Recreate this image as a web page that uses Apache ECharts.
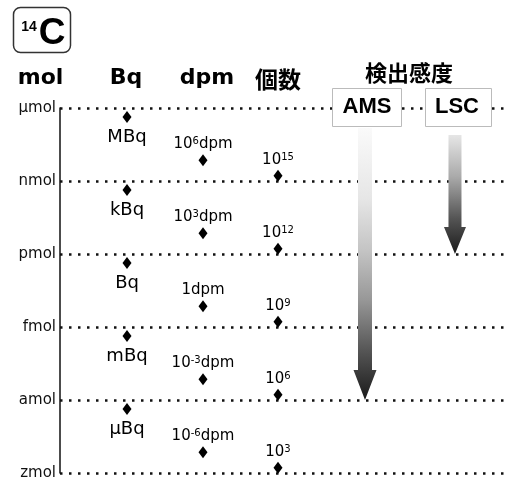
<!DOCTYPE html>
<html>
<head>
<meta charset="utf-8">
<script src="https://cdn.jsdelivr.net/npm/echarts@6/dist/echarts.min.js"></script>
<style>
  html, body { margin: 0; padding: 0; background: #fff; }
  #chart { width: 509px; height: 481px; }
</style>
</head>
<body>
<div id="chart"></div>
<script>
// ---- data; amounts are expressed in zmol ----
// mol scale tick labels: 1 zmol (1e-21 mol) up to 1e15 zmol (1 μmol)
const molUnits = ['zmol', 'amol', 'fmol', 'pmol', 'nmol', 'μmol'];
const molExponents = [0, 3, 6, 9, 12, 15];   // log10 of the tick in zmol

// Bq column
const bqLabels = ['MBq', 'kBq', 'Bq', 'mBq', 'μBq'];
const bqZmol = [4.3e14, 4.3e11, 4.3e8, 4.3e5, 430];

// dpm column
const dpmBase = ['10', '10', '1', '10', '10'];
const dpmSup = ['6', '3', '', '-3', '-6'];
const dpmZmol = [7.2e12, 7.2e9, 7.2e6, 7200, 7.2];

// number of atoms column (個数)
const countSup = ['15', '12', '9', '6', '3'];
const countZmol = [1.66e12, 1.66e9, 1.66e6, 1660, 1.66];

// detection sensitivity (検出感度)
const methods = ['AMS', 'LSC'];
const methodLimitZmol = [1e3, 1e9];
const methodStartZmol = [1.5e14, 7.8e13];

// ---- layout (positions of columns on a hidden 0..100 x axis) ----
const colX = { Bq: 15.06, dpm: 32.13, count: 48.99, AMS: 68.54, LSC: 88.76 };
const methodX = [colX.AMS, colX.LSC];

const INK = '#000';
const FONT = 'DejaVu Sans';

const chart = echarts.init(document.getElementById('chart'));

const arrowShape = [
  { sw: 7, hw: 11.5, hl: 30, stops: [
    { offset: 0, color: '#fafafa' }, { offset: 0.26, color: '#e6e6e6' },
    { offset: 0.45, color: '#c4c4c4' }, { offset: 0.63, color: '#989898' },
    { offset: 0.82, color: '#555' }, { offset: 1, color: '#1a1a1a' }] },
  { sw: 6.5, hw: 11, hl: 27, stops: [
    { offset: 0, color: '#e6e6e6' }, { offset: 0.35, color: '#aaaaaa' },
    { offset: 0.7, color: '#555' }, { offset: 1, color: '#1a1a1a' }] }
];

const supRich = {
  b: { fontFamily: FONT, fontSize: 15, lineHeight: 15, color: INK },
  s: { fontFamily: FONT, fontSize: 10, lineHeight: 10, color: INK, verticalAlign: 'top' }
};

const markStyle = { color: '#000', opacity: 1 };

const option = {
  animation: false,
  backgroundColor: '#fff',
  grid: { left: 60, right: 4, top: 108, bottom: 8 },
  xAxis: { type: 'value', min: 0, max: 100, show: false },
  yAxis: {
    type: 'log',
    logBase: 1000,
    min: 1,
    max: 1e15,
    splitNumber: 5,
    axisLine: { show: true, lineStyle: { color: '#111', width: 1.5 } },
    axisTick: { show: false },
    axisLabel: {
      margin: 4,
      fontFamily: FONT,
      fontSize: 15,
      color: '#111',
      formatter: function (v) {
        const e = Math.round(Math.log10(v));
        const i = molExponents.indexOf(e);
        return i >= 0 ? molUnits[i] : '';
      }
    },
    splitLine: { show: true, lineStyle: { color: '#111', width: 2.5, type: [2.5, 6.5] } }
  },
  series: [
    {
      type: 'custom',
      encode: { x: 0, y: 1 },
      data: methods.map((m, i) => [methodX[i], methodLimitZmol[i], methodStartZmol[i]]),
      renderItem: function (params, api) {
        const i = params.dataIndex;
        const s = arrowShape[i];
        const tip = api.coord([api.value(0), api.value(1)]);
        const top = api.coord([api.value(0), api.value(2)]);
        const x = tip[0];
        const hy = tip[1] - s.hl;
        return {
          type: 'polygon',
          shape: { points: [
            [x - s.sw, top[1]], [x + s.sw, top[1]], [x + s.sw, hy], [x + s.hw, hy],
            [x, tip[1]], [x - s.hw, hy], [x - s.sw, hy]] },
          style: { fill: new echarts.graphic.LinearGradient(0, 0, 0, 1, s.stops) }
        };
      },
      z: 3
    },
    {
      type: 'scatter',
      symbol: 'diamond',
      symbolSize: [9, 12],
      itemStyle: markStyle,
      data: bqZmol.map((v, i) => ({ value: [colX.Bq, v], name: bqLabels[i] })),
      label: {
        show: true, position: 'bottom', distance: 5,
        fontFamily: FONT, fontSize: 18, color: INK,
        formatter: p => p.name
      },
      z: 4
    },
    {
      type: 'scatter',
      symbol: 'diamond',
      symbolSize: [9, 12],
      itemStyle: markStyle,
      data: dpmZmol.map((v, i) => ({ value: [colX.dpm, v], name: String(i) })),
      label: {
        show: true, position: 'top', distance: 3,
        color: INK,
        formatter: p => {
          const i = p.dataIndex;
          return '{b|' + dpmBase[i] + '}' + (dpmSup[i] ? '{s|' + dpmSup[i] + '}' : '') + '{b|dpm}';
        },
        rich: supRich
      },
      z: 4
    },
    {
      type: 'scatter',
      symbol: 'diamond',
      symbolSize: [9, 12],
      itemStyle: markStyle,
      data: countZmol.map((v, i) => ({ value: [colX.count, v], name: String(i) })),
      label: {
        show: true, position: 'top', distance: 2,
        color: INK,
        formatter: p => '{b|10}{s|' + countSup[p.dataIndex] + '}',
        rich: supRich
      },
      z: 4
    }
  ],
  graphic: [
    { type: 'rect', z: 100, shape: { x: 13.5, y: 7.5, width: 57, height: 45, r: 7 },
      style: { fill: '#fff', stroke: '#333', lineWidth: 1.5 } },
    { type: 'text', z: 101, style: { x: 29, y: 27, text: '14', fontFamily: 'Liberation Sans', fontWeight: 'bold', fontSize: 14, fill: INK, textAlign: 'center', textVerticalAlign: 'middle' } },
    { type: 'text', z: 101, style: { x: 52, y: 34, text: 'C', fontFamily: 'Liberation Sans', fontWeight: 'bold', fontSize: 37, fill: INK, textAlign: 'center', textVerticalAlign: 'middle' } },

    { type: 'text', z: 101, style: { x: 40.5, y: 78, text: 'mol', fontFamily: FONT, fontWeight: 'bold', fontSize: 22, fill: INK, textAlign: 'center', textVerticalAlign: 'middle' } },
    { type: 'text', z: 101, style: { x: 126, y: 78, text: 'Bq', fontFamily: FONT, fontWeight: 'bold', fontSize: 22, fill: INK, textAlign: 'center', textVerticalAlign: 'middle' } },
    { type: 'text', z: 101, style: { x: 207, y: 78, text: 'dpm', fontFamily: FONT, fontWeight: 'bold', fontSize: 22, fill: INK, textAlign: 'center', textVerticalAlign: 'middle' } },
    { type: 'text', z: 101, style: { x: 278, y: 79, text: '個数', fontFamily: 'Noto Sans CJK JP', fontWeight: 'bold', fontSize: 23, fill: INK, textAlign: 'center', textVerticalAlign: 'middle' } },
    { type: 'text', z: 101, style: { x: 409, y: 73, text: '検出感度', fontFamily: 'Noto Sans CJK JP', fontWeight: 'bold', fontSize: 22, fill: INK, textAlign: 'center', textVerticalAlign: 'middle' } },

    { type: 'rect', z: 100, shape: { x: 332.5, y: 88.5, width: 69, height: 38 },
      style: { fill: '#fff', stroke: '#bbb', lineWidth: 1 } },
    { type: 'rect', z: 100, shape: { x: 425.5, y: 88.5, width: 66, height: 38 },
      style: { fill: '#fff', stroke: '#bbb', lineWidth: 1 } },
    { type: 'text', z: 101, style: { x: 367, y: 107, text: methods[0], fontFamily: 'Liberation Sans', fontWeight: 'bold', fontSize: 22, fill: INK, textAlign: 'center', textVerticalAlign: 'middle' } },
    { type: 'text', z: 101, style: { x: 457, y: 107, text: methods[1], fontFamily: 'Liberation Sans', fontWeight: 'bold', fontSize: 22, fill: INK, textAlign: 'center', textVerticalAlign: 'middle' } }
  ]
};

chart.setOption(option);
</script>
</body>
</html>
